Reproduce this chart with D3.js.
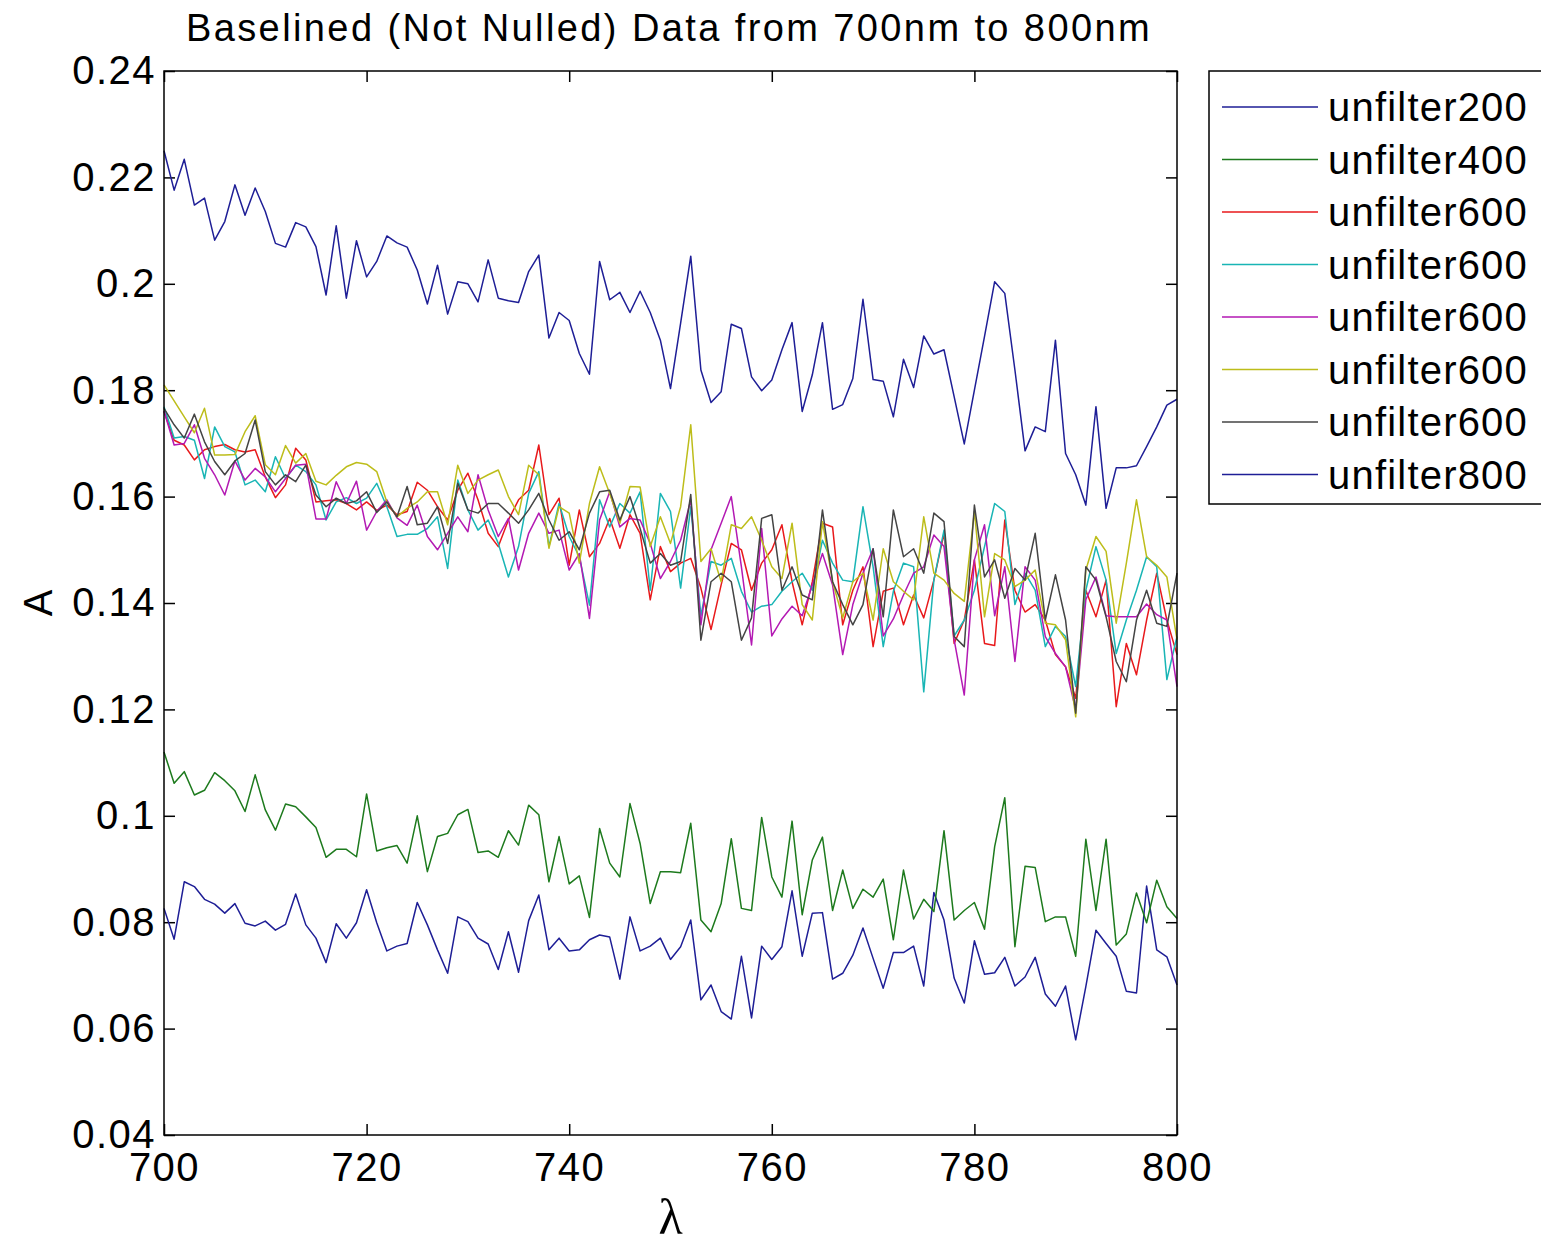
<!DOCTYPE html>
<html>
<head>
<meta charset="utf-8">
<script src="https://cdn.jsdelivr.net/npm/d3@7"></script>
<style>
  body { margin: 0; background: #fff; }
  text { font-family: "Liberation Sans", Arial, sans-serif; fill: #000; }
</style>
</head>
<body>
<div id="chart"></div>
<script>
// wavelength axis, 1 nm steps
var lambda = d3.range(700, 801, 1);

var seriesNames = ["unfilter200", "unfilter400", "unfilter600", "unfilter600", "unfilter600", "unfilter600", "unfilter600", "unfilter800"];
var seriesColors = ["#1e1e96", "#1d7a1d", "#e8191b", "#19b5b5", "#b319b3", "#bdbd1a", "#444444", "#1e1e96"];

var yTicks = [0.04, 0.06, 0.08, 0.1, 0.12, 0.14, 0.16, 0.18, 0.2, 0.22, 0.24];
var xTicks = [700, 720, 740, 760, 780, 800];

var unfilter200 = [
  0.0826, 0.0768, 0.0876, 0.0867, 0.0843, 0.0834, 0.0817, 0.0835, 0.0798, 0.0793, 0.0802, 0.0785, 0.0796, 0.0853, 0.0795, 0.0770, 0.0724, 0.0797, 0.0770, 0.0799, 0.0861, 0.0799, 0.0746, 0.0755, 0.0760, 0.0837,
  0.0795, 0.0748, 0.0704, 0.0810, 0.0801, 0.0770, 0.0759, 0.0711, 0.0782, 0.0706, 0.0803, 0.0851, 0.0748, 0.0770, 0.0746, 0.0748, 0.0767, 0.0776, 0.0772, 0.0693, 0.0810, 0.0746, 0.0755, 0.0770, 0.0730,
  0.0754, 0.0804, 0.0654, 0.0682, 0.0632, 0.0618, 0.0736, 0.0620, 0.0755, 0.0730, 0.0754, 0.0859, 0.0736, 0.0817, 0.0818, 0.0693, 0.0704, 0.0738, 0.0789, 0.0732, 0.0676, 0.0743, 0.0743, 0.0755, 0.0680,
  0.0856, 0.0804, 0.0695, 0.0648, 0.0765, 0.0702, 0.0705, 0.0734, 0.0680, 0.0697, 0.0734, 0.0665, 0.0642, 0.0680, 0.0579, 0.0679, 0.0785, 0.0760, 0.0736, 0.0670, 0.0667, 0.0868, 0.0748, 0.0735, 0.0682
];
var unfilter400 = [
  0.1120, 0.1061, 0.1083, 0.1039, 0.1048, 0.1081, 0.1066, 0.1047, 0.1008, 0.1077, 0.1011, 0.0973, 0.1022, 0.1017, 0.0998, 0.0978, 0.0922, 0.0937, 0.0937, 0.0923, 0.1041, 0.0934, 0.0940, 0.0944, 0.0911, 0.1000,
  0.0895, 0.0961, 0.0967, 0.1002, 0.1012, 0.0931, 0.0934, 0.0922, 0.0972, 0.0945, 0.1020, 0.1002, 0.0876, 0.0961, 0.0872, 0.0887, 0.0809, 0.0976, 0.0911, 0.0885, 0.1023, 0.0948, 0.0835, 0.0895, 0.0895,
  0.0893, 0.0986, 0.0804, 0.0782, 0.0835, 0.0957, 0.0826, 0.0822, 0.0997, 0.0885, 0.0847, 0.0990, 0.0814, 0.0917, 0.0960, 0.0822, 0.0898, 0.0826, 0.0862, 0.0847, 0.0881, 0.0767, 0.0898, 0.0806, 0.0843,
  0.0820, 0.0972, 0.0804, 0.0822, 0.0837, 0.0787, 0.0942, 0.1034, 0.0754, 0.0905, 0.0903, 0.0801, 0.0810, 0.0810, 0.0736, 0.0956, 0.0822, 0.0956, 0.0757, 0.0778, 0.0855, 0.0799, 0.0879, 0.0829, 0.0807
];
var red600 = [
  0.1760, 0.1706, 0.1697, 0.1669, 0.1688, 0.1694, 0.1698, 0.1688, 0.1684, 0.1688, 0.1637, 0.1598, 0.1622, 0.1691, 0.1669, 0.1590, 0.1592, 0.1594, 0.1587, 0.1575, 0.1590, 0.1574, 0.1584, 0.1566, 0.1572, 0.1627,
  0.1612, 0.1581, 0.1556, 0.1612, 0.1644, 0.1594, 0.1531, 0.1506, 0.1556, 0.1594, 0.1612, 0.1697, 0.1566, 0.1597, 0.1471, 0.1575, 0.1487, 0.1512, 0.1559, 0.1503, 0.1566, 0.1531, 0.1406, 0.1506, 0.1459,
  0.1475, 0.1484, 0.1428, 0.1350, 0.1434, 0.1512, 0.1500, 0.1424, 0.1475, 0.1500, 0.1547, 0.1440, 0.1359, 0.1440, 0.1550, 0.1543, 0.1359, 0.1424, 0.1468, 0.1318, 0.1422, 0.1428, 0.1359, 0.1415, 0.1372,
  0.1443, 0.1531, 0.1324, 0.1368, 0.1481, 0.1324, 0.1320, 0.1556, 0.1424, 0.1383, 0.1397, 0.1368, 0.1303, 0.1280, 0.1221, 0.1424, 0.1374, 0.1443, 0.1205, 0.1324, 0.1265, 0.1368, 0.1456, 0.1368, 0.1303
];
var cyan600 = [
  0.1769, 0.1710, 0.1713, 0.1706, 0.1634, 0.1731, 0.1694, 0.1684, 0.1622, 0.1631, 0.1609, 0.1675, 0.1634, 0.1659, 0.1647, 0.1622, 0.1556, 0.1590, 0.1598, 0.1587, 0.1597, 0.1625, 0.1581, 0.1525, 0.1529, 0.1529,
  0.1540, 0.1562, 0.1465, 0.1631, 0.1575, 0.1537, 0.1556, 0.1512, 0.1449, 0.1506, 0.1606, 0.1647, 0.1506, 0.1587, 0.1525, 0.1487, 0.1396, 0.1594, 0.1543, 0.1587, 0.1569, 0.1609, 0.1424, 0.1606, 0.1572,
  0.1428, 0.1581, 0.1376, 0.1478, 0.1471, 0.1484, 0.1422, 0.1383, 0.1394, 0.1397, 0.1422, 0.1440, 0.1456, 0.1424, 0.1518, 0.1475, 0.1443, 0.1440, 0.1581, 0.1468, 0.1318, 0.1422, 0.1475, 0.1468, 0.1233,
  0.1443, 0.1537, 0.1338, 0.1368, 0.1424, 0.1506, 0.1587, 0.1572, 0.1397, 0.1456, 0.1424, 0.1318, 0.1356, 0.1337, 0.1243, 0.1424, 0.1506, 0.1443, 0.1305, 0.1368, 0.1424, 0.1487, 0.1468, 0.1256, 0.1337
];
var magenta600 = [
  0.1761, 0.1697, 0.1700, 0.1735, 0.1672, 0.1641, 0.1603, 0.1667, 0.1631, 0.1653, 0.1637, 0.1609, 0.1634, 0.1659, 0.1661, 0.1558, 0.1558, 0.1628, 0.1587, 0.1629, 0.1537, 0.1572, 0.1594, 0.1560, 0.1546, 0.1584,
  0.1525, 0.1500, 0.1531, 0.1562, 0.1534, 0.1641, 0.1575, 0.1525, 0.1559, 0.1462, 0.1531, 0.1569, 0.1531, 0.1537, 0.1462, 0.1493, 0.1371, 0.1556, 0.1609, 0.1543, 0.1559, 0.1556, 0.1512, 0.1446, 0.1478,
  0.1518, 0.1594, 0.1359, 0.1500, 0.1550, 0.1600, 0.1468, 0.1321, 0.1540, 0.1338, 0.1370, 0.1394, 0.1376, 0.1434, 0.1493, 0.1434, 0.1303, 0.1397, 0.1456, 0.1502, 0.1338, 0.1370, 0.1415, 0.1456, 0.1468,
  0.1528, 0.1506, 0.1331, 0.1227, 0.1481, 0.1547, 0.1376, 0.1468, 0.1290, 0.1468, 0.1443, 0.1337, 0.1305, 0.1280, 0.1199, 0.1406, 0.1449, 0.1376, 0.1374, 0.1374, 0.1374, 0.1398, 0.1378, 0.1368, 0.1243
];
var yellow600 = [
  0.1810, 0.1780, 0.1750, 0.1720, 0.1766, 0.1678, 0.1678, 0.1679, 0.1722, 0.1752, 0.1660, 0.1641, 0.1696, 0.1663, 0.1681, 0.1629, 0.1622, 0.1640, 0.1656, 0.1664, 0.1661, 0.1647, 0.1590, 0.1562, 0.1578, 0.1590,
  0.1609, 0.1609, 0.1547, 0.1659, 0.1606, 0.1631, 0.1641, 0.1650, 0.1600, 0.1566, 0.1659, 0.1641, 0.1503, 0.1581, 0.1569, 0.1475, 0.1587, 0.1656, 0.1606, 0.1550, 0.1619, 0.1618, 0.1506, 0.1562, 0.1512,
  0.1581, 0.1735, 0.1478, 0.1502, 0.1440, 0.1547, 0.1540, 0.1562, 0.1518, 0.1468, 0.1446, 0.1550, 0.1397, 0.1368, 0.1553, 0.1440, 0.1372, 0.1440, 0.1456, 0.1368, 0.1502, 0.1440, 0.1422, 0.1406, 0.1562,
  0.1456, 0.1443, 0.1418, 0.1403, 0.1572, 0.1374, 0.1493, 0.1481, 0.1431, 0.1443, 0.1462, 0.1362, 0.1359, 0.1331, 0.1186, 0.1462, 0.1525, 0.1497, 0.1362, 0.1475, 0.1594, 0.1487, 0.1471, 0.1449, 0.1331
];
var gray600 = [
  0.1766, 0.1735, 0.1710, 0.1755, 0.1703, 0.1666, 0.1641, 0.1667, 0.1681, 0.1744, 0.1647, 0.1622, 0.1641, 0.1628, 0.1659, 0.1603, 0.1581, 0.1597, 0.1587, 0.1592, 0.1609, 0.1570, 0.1590, 0.1562, 0.1619, 0.1547,
  0.1550, 0.1581, 0.1512, 0.1625, 0.1575, 0.1569, 0.1587, 0.1587, 0.1569, 0.1550, 0.1575, 0.1606, 0.1556, 0.1518, 0.1534, 0.1500, 0.1569, 0.1609, 0.1612, 0.1556, 0.1600, 0.1540, 0.1475, 0.1493, 0.1471,
  0.1478, 0.1604, 0.1330, 0.1440, 0.1456, 0.1440, 0.1330, 0.1372, 0.1559, 0.1566, 0.1424, 0.1468, 0.1415, 0.1406, 0.1575, 0.1440, 0.1397, 0.1359, 0.1397, 0.1502, 0.1374, 0.1575, 0.1487, 0.1502, 0.1456,
  0.1569, 0.1553, 0.1337, 0.1318, 0.1584, 0.1449, 0.1481, 0.1409, 0.1465, 0.1443, 0.1531, 0.1368, 0.1453, 0.1368, 0.1193, 0.1468, 0.1443, 0.1374, 0.1290, 0.1252, 0.1368, 0.1424, 0.1362, 0.1356, 0.1456
];
var unfilter800 = [
  0.2250, 0.2176, 0.2234, 0.2148, 0.2161, 0.2082, 0.2117, 0.2186, 0.2129, 0.2180, 0.2136, 0.2076, 0.2069, 0.2115, 0.2107, 0.2070, 0.1979, 0.2109, 0.1973, 0.2081, 0.2013, 0.2042, 0.2090, 0.2077, 0.2069, 0.2026,
  0.1962, 0.2035, 0.1943, 0.2004, 0.2000, 0.1966, 0.2045, 0.1973, 0.1968, 0.1965, 0.2023, 0.2054, 0.1898, 0.1946, 0.1931, 0.1869, 0.1830, 0.2042, 0.1970, 0.1984, 0.1946, 0.1986, 0.1946, 0.1894, 0.1803,
  0.1926, 0.2052, 0.1838, 0.1777, 0.1797, 0.1924, 0.1916, 0.1825, 0.1799, 0.1819, 0.1876, 0.1927, 0.1760, 0.1829, 0.1927, 0.1764, 0.1773, 0.1822, 0.1971, 0.1820, 0.1817, 0.1750, 0.1858, 0.1805, 0.1902,
  0.1868, 0.1876, 0.1788, 0.1699, 0.1800, 0.1901, 0.2004, 0.1982, 0.1838, 0.1686, 0.1731, 0.1722, 0.1894, 0.1681, 0.1641, 0.1584, 0.1769, 0.1578, 0.1654, 0.1654, 0.1658, 0.1694, 0.1731, 0.1772, 0.1783
];

var allSeries = [unfilter200, unfilter400, red600, cyan600, magenta600, yellow600, gray600, unfilter800];

// set the dimensions and margins of the graph
var totalW = 1541, totalH = 1247;
var margin = {top: 71, right: 364, bottom: 112, left: 164};
var width = totalW - margin.left - margin.right;
var height = totalH - margin.top - margin.bottom;

var svg = d3.select("#chart")
  .append("svg")
    .attr("width", totalW)
    .attr("height", totalH);

var g = svg.append("g")
    .attr("transform", "translate(" + margin.left + "," + margin.top + ")");

var x = d3.scaleLinear().domain([700, 800]).range([0, width]);
var y = d3.scaleLinear().domain([0.04, 0.24]).range([height, 0]);

var fmtY = function(d) { return String(+d.toFixed(2)); };

// axes: ticks pointing inward on all four sides (box on)
var tickLen = 11;
g.append("g")
  .attr("class", "axis xb")
  .attr("transform", "translate(0," + height + ")")
  .call(d3.axisBottom(x).tickValues(xTicks).tickSizeInner(-tickLen).tickSizeOuter(0).tickPadding(18));
g.append("g")
  .attr("class", "axis")
  .call(d3.axisTop(x).tickValues(xTicks).tickSizeInner(-tickLen).tickSizeOuter(0).tickFormat(""));
g.append("g")
  .attr("class", "axis")
  .call(d3.axisLeft(y).tickValues(yTicks).tickSizeInner(-tickLen).tickSizeOuter(0).tickPadding(8).tickFormat(fmtY));
g.append("g")
  .attr("class", "axis")
  .attr("transform", "translate(" + width + ",0)")
  .call(d3.axisRight(y).tickValues(yTicks).tickSizeInner(-tickLen).tickSizeOuter(0).tickFormat(""));

g.selectAll(".axis path").remove();
g.selectAll(".axis line").attr("stroke", "#000").attr("stroke-width", 1.5);
g.selectAll(".axis text")
  .style("font-family", "'Liberation Sans', Arial, sans-serif")
  .style("font-size", "40px")
  .style("letter-spacing", "1.5px")
  .attr("fill", "#000");

// lines
var line = d3.line()
  .x(function(d, i) { return x(lambda[i]); })
  .y(function(d) { return y(d); });

g.selectAll(".series")
  .data(allSeries)
  .enter()
  .append("path")
    .attr("class", "series")
    .attr("d", line)
    .attr("fill", "none")
    .attr("stroke", function(d, i) { return seriesColors[i]; })
    .attr("stroke-width", 1.5)
    .attr("stroke-linejoin", "round");

// box
g.append("rect")
  .attr("width", width)
  .attr("height", height)
  .attr("fill", "none")
  .attr("stroke", "#000")
  .attr("stroke-width", 1.5);

// title and labels
svg.append("text")
  .attr("x", 669)
  .attr("y", 41)
  .attr("text-anchor", "middle")
  .style("font-size", "38px")
  .style("letter-spacing", "2.4px")
  .text("Baselined (Not Nulled) Data from 700nm to 800nm");

svg.append("text")
  .attr("transform", "translate(52," + (margin.top + height / 2) + ") rotate(-90)")
  .attr("text-anchor", "middle")
  .style("font-size", "40px")
  .text("A");

svg.append("text")
  .attr("x", margin.left + width / 2)
  .attr("y", 1234)
  .attr("text-anchor", "middle")
  .style("font-family", "'Liberation Serif', 'DejaVu Serif', serif")
  .style("font-size", "50px")
  .text("λ");

// legend
var legend = svg.append("g").attr("transform", "translate(1209,71)");
legend.append("rect")
  .attr("width", 340)
  .attr("height", 433)
  .attr("fill", "#fff")
  .attr("stroke", "#000")
  .attr("stroke-width", 1.5);

var entries = legend.selectAll(".entry")
  .data(seriesNames)
  .enter()
  .append("g")
    .attr("class", "entry")
    .attr("transform", function(d, i) { return "translate(0," + (36 + i * 52.5) + ")"; });
entries.append("line")
  .attr("x1", 13).attr("x2", 109)
  .attr("stroke", function(d, i) { return seriesColors[i]; })
  .attr("stroke-width", 1.5);
entries.append("text")
  .attr("x", 119)
  .attr("y", 14)
  .style("font-size", "40px")
  .style("letter-spacing", "1.2px")
  .text(function(d) { return d; });
</script>
</body>
</html>
